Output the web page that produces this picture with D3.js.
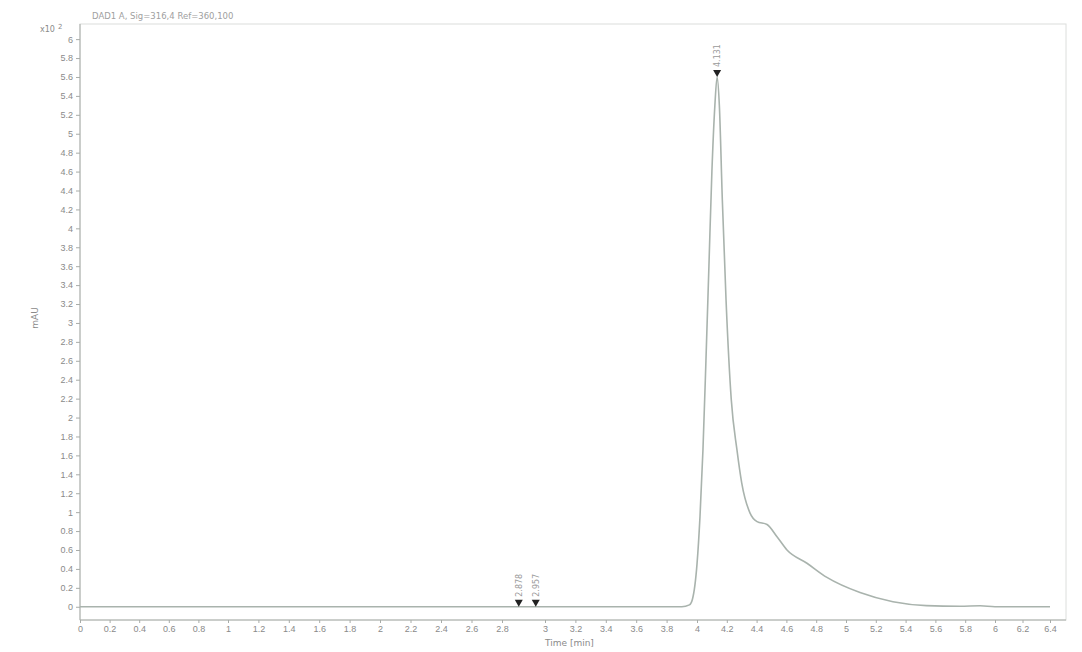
<!DOCTYPE html>
<html>
<head>
<meta charset="utf-8">
<script src="https://cdn.jsdelivr.net/npm/d3@7"></script>
<style>
  body { margin: 0; background: #fff; }
  svg { font-family: "DejaVu Sans", sans-serif; }
  .axis path, .axis line { stroke: #a8aca8; }
  .axis text { fill: #8a8a8a; font-size: 9px; }
</style>
</head>
<body>
<div class="graph"></div>
<script>
// chromatogram trace, time in min, signal in mAU x10^2
const times = [0, 1, 2, 3, 3.9, 3.95, 3.97, 4.0, 4.02, 4.04, 4.06, 4.08, 4.10, 4.12, 4.135, 4.15, 4.17, 4.195, 4.23, 4.268, 4.30, 4.356, 4.403, 4.47, 4.537, 4.604, 4.738, 4.872, 5.094, 5.315, 5.54, 5.765, 5.9, 6.0, 6.4];
const signal = [0, 0, 0, 0, 0, 0.02, 0.08, 0.45, 0.95, 1.66, 2.6, 3.6, 4.6, 5.3, 5.6, 5.3, 4.3, 3.24, 2.19, 1.66, 1.31, 0.99, 0.9, 0.87, 0.74, 0.6, 0.46, 0.31, 0.15, 0.053, 0.012, 0.005, 0.01, 0, 0];

const peakTimes = [2.878, 2.957, 4.135];
const peakHeights = [0, 0, 5.6];
const peakLabels = ['2.878', '2.957', '4.131'];

const xTicks = d3.range(0, 33).map((i) => +(i * 0.2).toFixed(1));
const yTicks = d3.range(0, 31).map((i) => +(i * 0.2).toFixed(1));

const w = 1082;
const h = 652;

// the printed axis is not perfectly even, so the scale follows the labelled ticks
const xScale = d3.scaleLinear()
  .domain([0, 1, 2, 2.8, 3, 4, 5, 6, 6.4, 6.5])
  .range([80, 228, 380, 502, 545, 697, 846, 995, 1050, 1066]);
const yScale = d3.scaleLinear()
  .domain([-0.14, 6.16])
  .range([620, 24]);

const svg = d3.select('.graph')
  .append('svg')
  .attr('width', w)
  .attr('height', h);

// frame
svg.append('rect')
  .attr('x', xScale(0))
  .attr('y', yScale(6.16))
  .attr('width', xScale(6.5) - xScale(0))
  .attr('height', yScale(-0.14) - yScale(6.16))
  .attr('fill', 'none')
  .attr('stroke', '#dcdedc');

svg.append('g')
  .attr('class', 'axis')
  .attr('transform', `translate(0, ${yScale(-0.14)})`)
  .call(d3.axisBottom(xScale)
    .tickValues(xTicks)
    .tickSize(3)
    .tickFormat((d) => d))
  .call((g) => g.select('.domain').attr('d', `M${xScale(0)},0H${xScale(6.5)}`));

svg.append('g')
  .attr('class', 'axis')
  .attr('transform', `translate(${xScale(0)}, 0)`)
  .call(d3.axisLeft(yScale)
    .tickValues(yTicks)
    .tickSize(4)
    .tickFormat((d) => d))
  .call((g) => g.select('.domain').attr('d', `M0,${yScale(6.16)}V${yScale(-0.14)}`));

// exponent above the y axis
svg.append('text')
  .attr('x', 40)
  .attr('y', 32)
  .attr('fill', '#8a8a8a')
  .style('font-size', '8px')
  .text('x10');
svg.append('text')
  .attr('x', 58)
  .attr('y', 29)
  .attr('fill', '#8a8a8a')
  .style('font-size', '7px')
  .text('2');

svg.append('text')
  .attr('transform', 'rotate(-90)')
  .attr('x', -318)
  .attr('y', 38)
  .attr('text-anchor', 'middle')
  .attr('fill', '#8a8a8a')
  .style('font-size', '9px')
  .text('mAU');

svg.append('text')
  .attr('x', 545)
  .attr('y', 646)
  .attr('fill', '#8a8a8a')
  .style('font-size', '9px')
  .text('Time [min]');

svg.append('text')
  .attr('x', 92)
  .attr('y', 19)
  .attr('fill', '#a0a0a0')
  .style('font-size', '8.5px')
  .text('DAD1 A, Sig=316,4 Ref=360,100');

// trace
const trace = times.map((t, i) => ({ t: t, v: signal[i] }));
svg.append('path')
  .datum(trace)
  .attr('fill', 'none')
  .attr('stroke', '#a9b3ad')
  .attr('stroke-width', 1.6)
  .attr('d', d3.line()
    .x((d) => xScale(d.t))
    .y((d) => yScale(d.v))
    .curve(d3.curveMonotoneX));

// peak markers
const peaks = peakTimes.map((t, i) => ({ t: t, v: peakHeights[i], label: peakLabels[i] }));
const marks = svg.selectAll('.peak')
  .data(peaks)
  .enter()
  .append('g')
  .attr('class', 'peak')
  .attr('transform', (d) => `translate(${xScale(d.t)}, ${yScale(d.v)})`);

marks.append('path')
  .attr('d', 'M-4,-7L4,-7L0,0Z')
  .attr('fill', '#222');

marks.append('text')
  .attr('transform', 'rotate(-90)')
  .attr('x', 10)
  .attr('y', 3)
  .attr('fill', '#9a9a9a')
  .style('font-size', '8px')
  .text((d) => d.label);
</script>
</body>
</html>
